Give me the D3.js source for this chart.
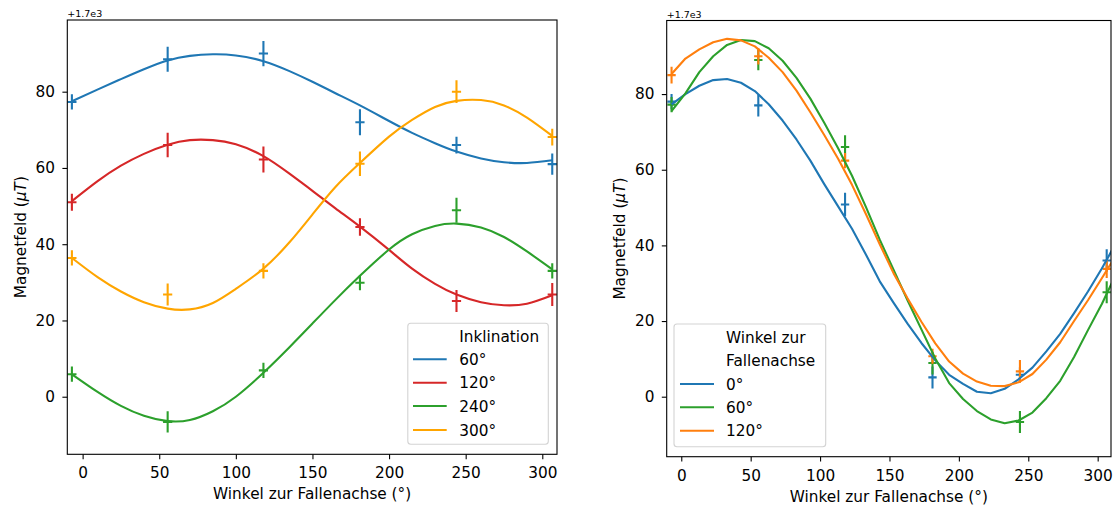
<!DOCTYPE html>
<html>
<head>
<meta charset="utf-8">
<script src="https://cdn.jsdelivr.net/npm/d3@7"></script>
<style>
  body { margin: 0; background: white; }
  text { font-family: "DejaVu Sans", sans-serif; fill: #000; }
</style>
</head>
<body>
<div id="drawing"></div>
<script>
'use strict';

// measured angles (deg), same in both panels
const angles = [-7, 55.5, 118, 181, 244, 306.5];
const xerr = 3;
const xticks = [0, 50, 100, 150, 200, 250, 300];
const yticks = [0, 20, 40, 60, 80];

// --- left panel: different Inklination ---
const inklLabels = ['60°', '120°', '240°', '300°'];
const inklColors = ['#1f77b4', '#d62728', '#2ca02c', '#ffa500'];
const inklMeas = [
  [77.3, 88.5, 90, 72, 66, 61],
  [51, 66, 62.2, 44.5, 25.1, 26.8],
  [5.9, -6.6, 6.9, 29.9, 48.9, 33],
  [36.4, 26.8, 33, 61.1, 80, 68.1]
];
const inklErr = [
  [2, 3.3, 3.3, 3.4, 2.2, 2.8],
  [2.2, 3.2, 3.4, 2.3, 2.9, 3],
  [2, 2.8, 2, 2, 3.3, 2],
  [2, 2.9, 2, 3.2, 3, 2.2]
];
const inklFitX = [-7, 10, 25, 40, 55.5, 70, 85, 100, 118, 135, 150, 165, 181, 200, 215, 230, 244, 260, 275, 290, 306.5];
const inklFit = [
  [77.5, 80.6, 83.3, 85.9, 88.2, 89.4, 89.8, 89.5, 88, 85.4, 82.6, 79.6, 76.4, 72.3, 69.2, 66.5, 64.3, 62.5, 61.5, 61.3, 62],
  [51.3, 56.6, 60.6, 63.7, 66.1, 67.3, 67.3, 66.2, 63.1, 58.5, 54, 49.4, 44.6, 38.5, 33.6, 29.6, 26.8, 24.8, 24, 24.4, 26.6],
  [5.9, 1.2, -2.4, -5, -6.4, -6.1, -3.8, 0, 6.3, 13, 19.2, 25.4, 31.7, 38.6, 42.6, 44.8, 45.4, 44.4, 41.9, 38.1, 33.4],
  [36.4, 31.3, 27.6, 24.8, 23.1, 22.9, 24.6, 28.3, 33.6, 40.5, 47.8, 55, 61.3, 68.2, 72.6, 76, 77.6, 77.8, 76.4, 73.2, 68.4]
];

// --- right panel: different Winkel zur Fallenachse ---
const fallLabels = ['0°', '60°', '120°'];
const fallColors = ['#1f77b4', '#2ca02c', '#ff7f0e'];
const fallMeas = [
  [78, 77, 50.8, 5.1, 5.8, 36],
  [77.2, 89, 66, 8.9, -6.7, 27.6],
  [85, 90, 62.4, 10.7, 6.7, 33.8]
];
const fallErr = [
  [2, 2.9, 3.1, 2.9, 2, 3],
  [2, 2.7, 3.1, 3, 2.9, 2.9],
  [2.2, 2.2, 2, 2, 3, 2.4]
];
const fallFitX = [-7, 3, 13, 23, 33, 43, 53, 63, 73, 83, 93, 103, 113, 123, 133, 143, 153, 163, 173, 183, 193, 203, 213, 223, 233, 243, 253, 263, 273, 283, 293, 303, 313];
const fallFit = [
  [77.3, 80, 82.2, 83.7, 84, 83, 80.8, 77.3, 73, 68, 62.4, 56.2, 50.3, 44.4, 37.6, 30.5, 24.8, 19.3, 14.2, 9.6, 5.8, 3.4, 1.3, 0.9, 2.1, 4.6, 7.7, 12, 16.6, 22.1, 27.8, 33.9, 40.5],
  [75.5, 80.2, 85.8, 90, 93, 94.3, 94, 92.1, 88.8, 84.3, 78.8, 72.4, 65.7, 58.4, 50.2, 41.5, 33.5, 25.5, 17.8, 10.1, 3.6, -0.6, -3.8, -6, -7, -6.3, -4.2, -0.4, 4.2, 10.5, 17.6, 24.5, 32.2],
  [85.3, 89.4, 91.8, 93.7, 94.6, 94.2, 92.6, 89.6, 85.8, 80.9, 75.2, 69.2, 62.9, 56, 48.3, 40.3, 32.6, 26, 19.8, 14.1, 9.3, 6.1, 4, 2.9, 2.8, 3.8, 6, 9.8, 14.4, 20, 25.5, 31.3, 37.2]
];

const FS = 15.3;
const LW = 2.1;

const svg = d3.select('#drawing')
  .append('svg')
  .attr('width', 1114)
  .attr('height', 506);

const drawPanel = function(p) {
  const x = d3.scaleLinear().domain(p.xdom).range([p.left, p.right]);
  const y = d3.scaleLinear().domain(p.ydom).range([p.bottom, p.top]);
  const g = svg.append('g').attr('id', p.id);

  g.append('clipPath').attr('id', p.id + '-clip')
    .append('rect')
    .attr('x', p.left).attr('y', p.top)
    .attr('width', p.right - p.left).attr('height', p.bottom - p.top);
  const plot = g.append('g').attr('clip-path', `url(#${p.id}-clip)`);

  const line = d3.line()
    .x(d => x(d[0]))
    .y(d => y(d[1]))
    .curve(p.curve);

  p.meas.forEach(function(vals, i) {
    const pts = angles.map((a, j) => ({x: a, y: vals[j], e: p.err[i][j]}));
    const eb = plot.append('g').style('stroke', p.colors[i]).style('stroke-width', LW);
    eb.selectAll(null).data(pts).enter().append('line')
      .attr('x1', d => x(d.x)).attr('x2', d => x(d.x))
      .attr('y1', d => y(d.y - d.e)).attr('y2', d => y(d.y + d.e));
    eb.selectAll(null).data(pts).enter().append('line')
      .attr('x1', d => x(d.x - xerr)).attr('x2', d => x(d.x + xerr))
      .attr('y1', d => y(d.y)).attr('y2', d => y(d.y));
  });
  p.fit.forEach(function(vals, i) {
    plot.append('path')
      .datum(p.fitX.map((a, j) => [a, vals[j]]))
      .attr('d', line)
      .style('fill', 'none')
      .style('stroke', p.colors[i])
      .style('stroke-width', LW)
      .style('stroke-linejoin', 'round');
  });

  // axes
  const xa = g.append('g')
    .attr('transform', `translate(0,${p.bottom})`)
    .call(d3.axisBottom(x).tickValues(xticks).tickSize(4.9).tickPadding(8.2).tickSizeOuter(0));
  const ya = g.append('g')
    .attr('transform', `translate(${p.left},0)`)
    .call(d3.axisLeft(y).tickValues(yticks).tickSize(4.9).tickPadding(7.4).tickSizeOuter(0));
  [xa, ya].forEach(function(a) {
    a.attr('font-size', FS).attr('font-family', '"DejaVu Sans", sans-serif');
    a.select('.domain').remove();
    a.selectAll('.tick line').style('stroke', '#000').style('stroke-width', 1.1);
  });
  g.append('rect')
    .attr('x', p.left).attr('y', p.top)
    .attr('width', p.right - p.left).attr('height', p.bottom - p.top)
    .style('fill', 'none').style('stroke', '#000').style('stroke-width', 1.1);

  g.append('text')
    .attr('x', p.left).attr('y', p.top - 3)
    .style('font-size', '9.5px')
    .text('+1.7e3');

  g.append('text')
    .attr('x', (p.left + p.right) / 2).attr('y', p.bottom + 45)
    .attr('text-anchor', 'middle')
    .style('font-size', FS + 'px')
    .text('Winkel zur Fallenachse (°)');

  const yl = g.append('text')
    .attr('transform', `translate(${p.left - 41.5},${(p.top + p.bottom) / 2}) rotate(-90)`)
    .attr('text-anchor', 'middle')
    .style('font-size', FS + 'px');
  yl.append('tspan').text('Magnetfeld (');
  yl.append('tspan').style('font-style', 'italic').text('μT');
  yl.append('tspan').text(')');

  // legend
  const lg = g.append('g');
  lg.append('rect')
    .attr('x', p.leg.x0).attr('y', p.leg.y0)
    .attr('width', p.leg.x1 - p.leg.x0).attr('height', p.leg.y1 - p.leg.y0)
    .attr('rx', 3)
    .style('fill', 'rgba(255,255,255,0.8)')
    .style('stroke', '#d3d3d3')
    .style('stroke-width', 1.1);
  p.leg.title.forEach(function(t, k) {
    lg.append('text')
      .attr('x', p.leg.tx).attr('y', p.leg.rows[k] + 5.5)
      .style('font-size', FS + 'px')
      .text(t);
  });
  const n0 = p.leg.title.length;
  p.labels.forEach(function(lab, i) {
    const ry = p.leg.rows[n0 + i];
    lg.append('line')
      .attr('x1', p.leg.hx0).attr('x2', p.leg.hx1)
      .attr('y1', ry).attr('y2', ry)
      .style('stroke', p.colors[i]).style('stroke-width', LW);
    lg.append('text')
      .attr('x', p.leg.tx).attr('y', ry + 5.5)
      .style('font-size', FS + 'px')
      .text(lab);
  });
};

drawPanel({
  id: 'left',
  left: 67.3, right: 557, top: 20, bottom: 454.3,
  xdom: [-10, 309.6], ydom: [-15.1, 98.8],
  meas: inklMeas, err: inklErr, fitX: inklFitX, fit: inklFit,
  labels: inklLabels, colors: inklColors,
  curve: d3.curveNatural,
  leg: {x0: 407.8, x1: 548.3, y0: 323.3, y1: 444.3, hx0: 413, hx1: 446.7, tx: 459.2,
        title: ['Inklination'], rows: [336.7, 359.3, 382.7, 406, 430]}
});

drawPanel({
  id: 'right',
  left: 666.7, right: 1111, top: 20.5, bottom: 456.7,
  xdom: [-10.5, 309.6], ydom: [-15.86, 99.45],
  meas: fallMeas, err: fallErr, fitX: fallFitX, fit: fallFit,
  labels: fallLabels, colors: fallColors,
  curve: d3.curveLinear,
  leg: {x0: 674, x1: 825.7, y0: 324, y1: 446.7, hx0: 680, hx1: 714, tx: 726,
        title: ['Winkel zur', 'Fallenachse'], rows: [337.3, 360.7, 384, 407.3, 430.7]}
});
</script>
</body>
</html>
